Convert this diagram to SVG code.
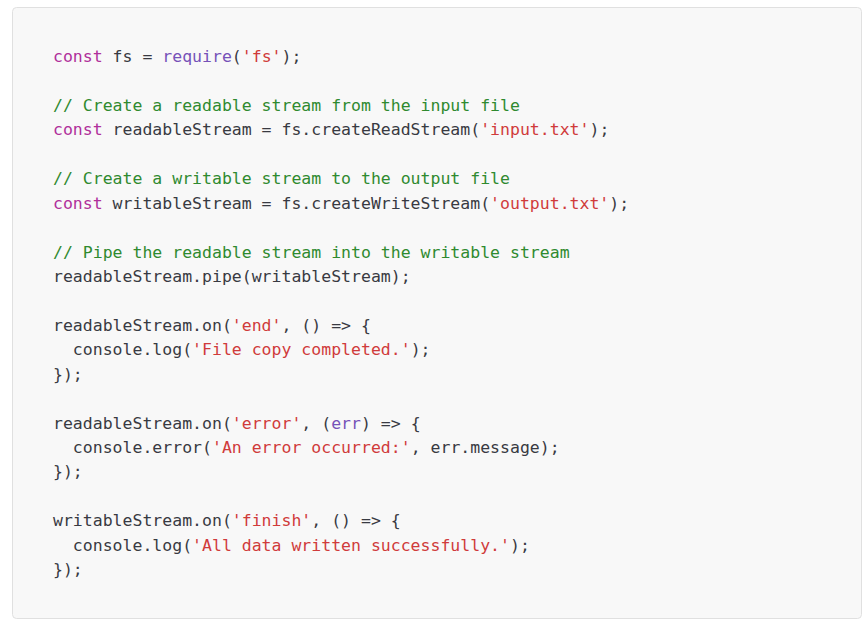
<svg xmlns="http://www.w3.org/2000/svg" width="867" height="622" viewBox="0 0 867 622">
<style>
text{font-family:"DejaVu Sans Mono","Liberation Mono",monospace;font-size:16.5px;fill:#383a42;white-space:pre}
.k{fill:#b0309b}.f{fill:#7652b8}.s{fill:#d03b3b}.c{fill:#2f8a2f}
</style>
<rect x="12.5" y="7.5" width="849" height="611" rx="4" fill="#f8f8f8" stroke="#e0e0e0"/>
<g id="code" xml:space="preserve">
<text x="53" y="62"><tspan class="k">const</tspan> fs = <tspan class="f">require</tspan>(<tspan class="s">'fs'</tspan>);</text>
<text x="53" y="110.9" class="c">// Create a readable stream from the input file</text>
<text x="53" y="135.3"><tspan class="k">const</tspan> readableStream = fs.createReadStream(<tspan class="s">'input.txt'</tspan>);</text>
<text x="53" y="184.2" class="c">// Create a writable stream to the output file</text>
<text x="53" y="208.6"><tspan class="k">const</tspan> writableStream = fs.createWriteStream(<tspan class="s">'output.txt'</tspan>);</text>
<text x="53" y="257.5" class="c">// Pipe the readable stream into the writable stream</text>
<text x="53" y="281.9">readableStream.pipe(writableStream);</text>
<text x="53" y="330.7">readableStream.on(<tspan class="s">'end'</tspan>, () =&gt; {</text>
<text x="53" y="355.2">  console.log(<tspan class="s">'File copy completed.'</tspan>);</text>
<text x="53" y="379.6">});</text>
<text x="53" y="428.5">readableStream.on(<tspan class="s">'error'</tspan>, (<tspan class="f">err</tspan>) =&gt; {</text>
<text x="53" y="452.9">  console.error(<tspan class="s">'An error occurred:'</tspan>, err.message);</text>
<text x="53" y="477.3">});</text>
<text x="53" y="526.2">writableStream.on(<tspan class="s">'finish'</tspan>, () =&gt; {</text>
<text x="53" y="550.6">  console.log(<tspan class="s">'All data written successfully.'</tspan>);</text>
<text x="53" y="575">});</text>
</g>
</svg>
